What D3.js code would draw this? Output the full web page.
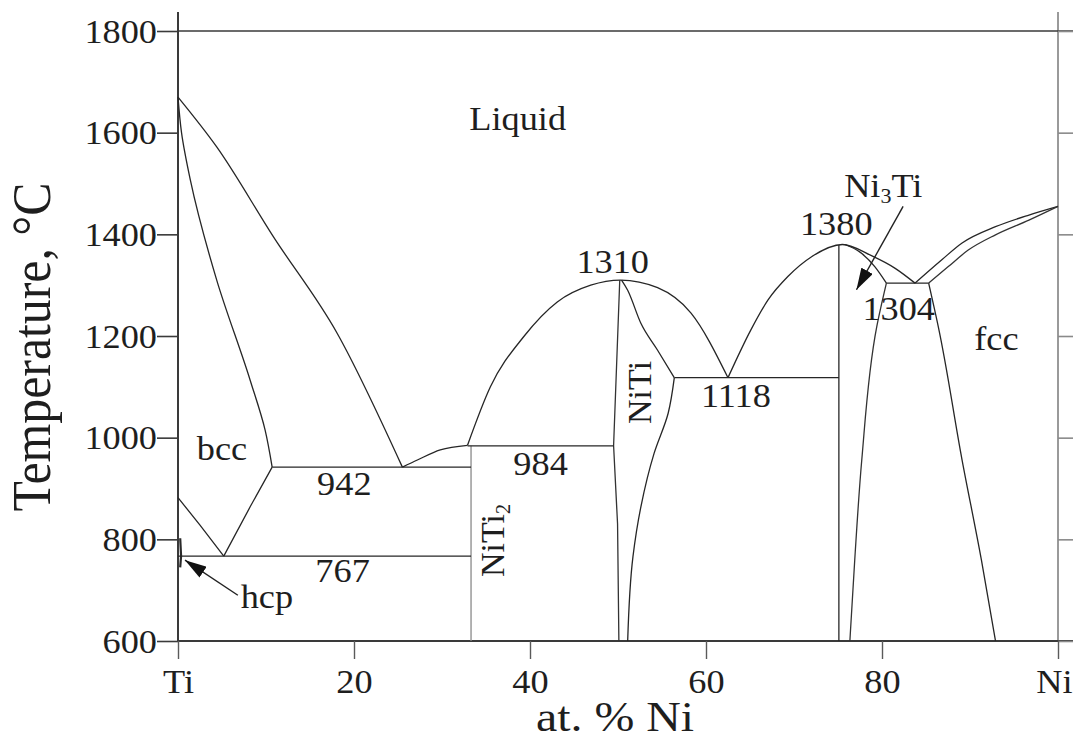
<!DOCTYPE html>
<html>
<head>
<meta charset="utf-8">
<script src="https://cdn.jsdelivr.net/npm/d3@7"></script>
<style>
  html, body { margin: 0; padding: 0; background: #fff; }
  svg { display: block; }
  text { font-family: "Liberation Serif", "Times New Roman", serif; fill: #1e1e1e; }
</style>
</head>
<body>
<svg id="chart" width="1073" height="740"></svg>
<script>
// Ti–Ni binary phase diagram (composition in at.% Ni, temperature in °C)

const xTickValues = [0, 20, 40, 60, 80, 100];
const xTickLabels = ["Ti", "20", "40", "60", "80", "Ni"];
const yTickValues = [600, 800, 1000, 1200, 1400, 1600, 1800];

// Phase boundaries: [at.% Ni, °C]
const liquidusTi      = [[0,1670],[4.4,1572],[10.85,1395],[18.1,1205],[25.5,942]];
const solidusBcc      = [[0,1670],[0.4,1600],[1.4,1507],[4.4,1310],[8.2,1113],[9.9,1015],[10.7,942]];
const bccTransusLeft  = [[0,882],[2.5,828],[5.2,767]];
const bccTransusRight = [[5.2,767],[8.2,864],[10.7,942]];
const hcpSolvus       = [[0.25,802],[0.35,767],[0.25,745]];
const liquidusNiTi2   = [[25.5,942],[27.2,956],[29.8,976],[32.9,985]];
const liquidusNiTi    = [[32.9,985],[35.5,1100],[39.3,1199],[43.1,1267],[46.9,1300],[50.3,1310],[54.5,1295],[58.3,1245],[62.5,1118]];
const niTiLeft        = [[50.2,1310],[49.5,984],[49.95,830],[50.1,600]];
const niTiSolidusR    = [[50.4,1310],[51.1,1290],[52.6,1225],[54.5,1172],[56.4,1118]];
const niTiSolvusR     = [[56.4,1118],[55.7,1048],[54.1,969],[52.6,864],[51.7,766],[51.1,600]];
const liquidusNi3Ti   = [[62.5,1118],[65.1,1212],[67.05,1271],[69.3,1317],[72.0,1356],[75.5,1380],[78.8,1358],[81.5,1333],[83.75,1304]];
const ni3TiSolidusR   = [[75.8,1380],[77.5,1365],[79.2,1336],[80.5,1304]];
const ni3TiSolvusR    = [[80.5,1304],[79.4,1218],[77.7,956],[76.9,759],[76.35,600]];
const ni3TiLeft       = [[75.1,1379],[75.1,600]];
const niTi2Line       = [[33.3,984],[33.3,600]];
const liquidusFcc     = [[83.75,1304],[86.8,1350],[89.1,1383],[92.9,1415],[96.7,1438],[100,1455]];
const solidusFcc      = [[85.3,1304],[87.5,1336],[89.8,1369],[92.9,1399],[96.7,1428],[100,1455]];
const solvusFcc       = [[85.3,1304],[86.4,1218],[89.1,956],[91.3,759],[92.9,600]];

// Invariant reactions (isotherms): [left at.% Ni, right at.% Ni, °C]
const isotherms = [
  [10.7, 33.3, 942],
  [0,    33.3, 767],
  [32.9, 49.5, 984],
  [56.4, 75.1, 1118],
  [80.5, 85.3, 1304]
];

const svg = d3.select("#chart");
const W = 1073, H = 740;
const margin = { left: 178, right: 15, top: 31, bottom: 99 };
const FS = 33;          // label font size
const SX = 1.1;         // horizontal glyph stretch

const x = d3.scaleLinear().domain([0, 100]).range([margin.left, W - margin.right]);
const y = d3.scaleLinear().domain([600, 1800]).range([H - margin.bottom, margin.top]);

const x0 = x(0), x1 = x(100), yb = y(600), yt = y(1800);

// Frame lines
const frame = svg.append("g");
frame.append("line").attr("x1", x0).attr("x2", x0).attr("y1", 12).attr("y2", yb)
  .attr("stroke", "#3a3a3a").attr("stroke-width", 2);
frame.append("line").attr("x1", x1).attr("x2", x1).attr("y1", 12).attr("y2", yb)
  .attr("stroke", "#9a9a9a").attr("stroke-width", 2);
frame.append("line").attr("x1", x0).attr("x2", W).attr("y1", yt).attr("y2", yt)
  .attr("stroke", "#3a3a3a").attr("stroke-width", 1.6);
frame.append("line").attr("x1", x0).attr("x2", W).attr("y1", yb).attr("y2", yb)
  .attr("stroke", "#3a3a3a").attr("stroke-width", 2);

// Left axis
const gy = svg.append("g").attr("transform", `translate(${x0},0)`)
  .call(d3.axisLeft(y).tickValues(yTickValues).tickFormat(d3.format("d"))
    .tickSize(21).tickSizeOuter(0).tickPadding(1));
gy.select(".domain").remove();
gy.selectAll(".tick line").attr("stroke", "#3a3a3a").attr("stroke-width", 1.6);
gy.selectAll(".tick text")
  .attr("font-size", FS).attr("fill", "#1e1e1e").attr("font-family", "Liberation Serif, serif")
  .attr("x", 0).attr("dy", "0.34em")
  .attr("transform", `translate(-21,0) scale(${SX},1)`);

// Right axis ticks (outward)
const gr = svg.append("g").attr("transform", `translate(${x1},0)`)
  .call(d3.axisRight(y).tickValues(yTickValues).tickFormat("").tickSize(15).tickSizeOuter(0));
gr.select(".domain").remove();
gr.selectAll(".tick line").attr("stroke", "#8a8a8a").attr("stroke-width", 1.6);

// Bottom axis
const gx = svg.append("g").attr("transform", `translate(0,${yb})`)
  .call(d3.axisBottom(x).tickValues(xTickValues).tickFormat((d, i) => xTickLabels[i])
    .tickSize(18).tickSizeOuter(0));
gx.select(".domain").remove();
gx.selectAll(".tick line").attr("stroke", "#5a5a5a").attr("stroke-width", 1.4);
gx.selectAll(".tick text")
  .attr("font-size", FS).attr("fill", "#1e1e1e").attr("font-family", "Liberation Serif, serif")
  .attr("y", 0).attr("dy", 0)
  .attr("transform", (d, i) => `translate(${i === xTickValues.length - 1 ? -4 : 0},52) scale(${SX},1)`);

// Axis titles
svg.append("text")
  .attr("transform", `translate(50,347) scale(1.13,1) rotate(-90)`)
  .attr("text-anchor", "middle")
  .attr("font-size", 49)
  .attr("textLength", 329).attr("lengthAdjust", "spacingAndGlyphs")
  .text("Temperature, °C");

svg.append("text")
  .attr("transform", `translate(615,731) scale(1.14,1)`)
  .attr("text-anchor", "middle")
  .attr("font-size", 42)
  .text("at. % Ni");

// Phase boundaries
const plot = svg.append("g").attr("fill", "none");
const lineX = d3.line().x(d => x(d[0])).y(d => y(d[1])).curve(d3.curveMonotoneX);
const lineY = d3.line().x(d => x(d[0])).y(d => y(d[1])).curve(d3.curveMonotoneY);
const straight = d3.line().x(d => x(d[0])).y(d => y(d[1]));

const curves = [
  [liquidusTi, lineX, "#262626"],
  [solidusBcc, lineY, "#262626"],
  [bccTransusLeft, straight, "#262626"],
  [bccTransusRight, straight, "#262626"],
  [liquidusNiTi2, lineX, "#262626"],
  [liquidusNiTi, lineX, "#262626"],
  [niTiLeft, straight, "#333"],
  [niTiSolidusR, lineX, "#262626"],
  [niTiSolvusR, lineY, "#262626"],
  [liquidusNi3Ti, lineX, "#262626"],
  [ni3TiSolidusR, lineX, "#262626"],
  [ni3TiSolvusR, lineY, "#333"],
  [ni3TiLeft, straight, "#262626"],
  [niTi2Line, straight, "#8a8a8a"],
  [liquidusFcc, lineX, "#262626"],
  [solidusFcc, lineX, "#333"],
  [solvusFcc, lineY, "#262626"]
];
curves.forEach(([pts, gen, col]) => {
  plot.append("path").attr("d", gen(pts)).attr("stroke", col).attr("stroke-width", 1.3);
});
plot.append("path").attr("d", straight(hcpSolvus)).attr("stroke", "#2a2a2a").attr("stroke-width", 2.2);

isotherms.forEach(([a, b, t]) => {
  plot.append("line").attr("x1", x(a)).attr("x2", x(b)).attr("y1", y(t)).attr("y2", y(t))
    .attr("stroke", "#262626").attr("stroke-width", 1.3);
});

// Arrow markers
svg.append("defs").append("marker")
  .attr("id", "head").attr("markerUnits", "userSpaceOnUse")
  .attr("viewBox", "0 0 20 12").attr("refX", 20).attr("refY", 6)
  .attr("markerWidth", 22).attr("markerHeight", 13).attr("orient", "auto")
  .append("path").attr("d", "M0,0 L20,6 L0,12 Z").attr("fill", "#111");

const arrows = [
  { from: [6.8, 690], to: [0.8, 759] },
  { from: [82.4, 1455], to: [77.1, 1291] }
];
arrows.forEach(a => {
  svg.append("line")
    .attr("x1", x(a.from[0])).attr("y1", y(a.from[1]))
    .attr("x2", x(a.to[0])).attr("y2", y(a.to[1]))
    .attr("stroke", "#222").attr("stroke-width", 1.4)
    .attr("marker-end", "url(#head)");
});

// Region and temperature labels: [text, at.% Ni, °C at baseline]
const labels = [
  ["Liquid", 38.6, 1605],
  ["bcc", 5.0, 956],
  ["942", 18.9, 887],
  ["767", 18.7, 716],
  ["hcp", 10.1, 665],
  ["984", 41.2, 927],
  ["1310", 49.4, 1324],
  ["1118", 63.4, 1060],
  ["1380", 74.8, 1399],
  ["1304", 81.9, 1231],
  ["fcc", 93.0, 1172]
];
const lab = svg.append("g").attr("font-size", FS);
labels.forEach(([t, c, T]) => {
  lab.append("text")
    .attr("transform", `translate(${x(c)},${y(T)}) scale(${SX},1)`)
    .attr("text-anchor", "middle").text(t);
});

// Ni3Ti label with subscript
const ni3 = lab.append("text")
  .attr("transform", `translate(${x(75.7)},${y(1473)}) scale(${SX},1)`);
ni3.append("tspan").text("Ni");
ni3.append("tspan").attr("font-size", 20).attr("dy", 6).text("3");
ni3.append("tspan").attr("dy", -6).text("Ti");

// Rotated compound labels
const niti2 = lab.append("text")
  .attr("transform", `translate(${x(37.1)},${y(726)}) rotate(-90)`)
  .attr("font-size", 34)
  .attr("text-anchor", "start");
niti2.append("tspan").text("NiTi");
niti2.append("tspan").attr("font-size", 20).attr("dy", 6).text("2");

lab.append("text")
  .attr("transform", `translate(${x(53.8)},${y(1089)}) rotate(-90)`)
  .attr("font-size", 34)
  .attr("text-anchor", "middle")
  .text("NiTi");
</script>
</body>
</html>
